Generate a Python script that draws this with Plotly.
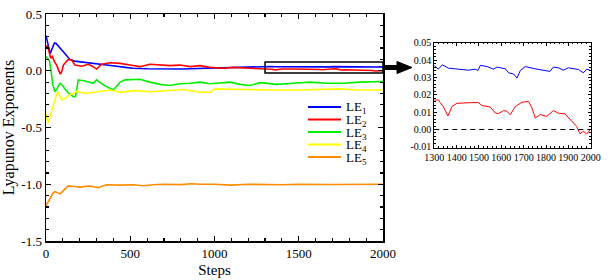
import plotly.graph_objects as go

W, H = 610, 280

# ---------------- data ----------------
le1_steps = [0, 12, 25, 35, 50, 60, 83, 110, 142, 170, 200, 250, 300, 360, 420, 470, 517, 600, 677, 750, 813, 900, 1000, 1110, 1200, 1290,
             1300, 1318, 1336, 1363, 1408, 1453, 1483, 1495, 1506, 1536, 1565, 1580, 1618, 1633, 1655, 1670, 1685, 1707, 1751, 1796,
             1818, 1833, 1855, 1878, 1900, 1945, 1967, 1982, 2000]
le1_values = [0.31, 0.22, 0.15, 0.19, 0.245, 0.24, 0.20, 0.15, 0.10, 0.085, 0.08, 0.075, 0.065, 0.05, 0.04, 0.03, 0.022, 0.018, 0.015, 0.016, 0.016, 0.02, 0.025, 0.03, 0.033, 0.036,
              0.0369, 0.0348, 0.0373, 0.0354, 0.0348, 0.0342, 0.0348, 0.0340, 0.0370, 0.0363, 0.0348, 0.0360, 0.0350, 0.0327, 0.0320, 0.0296, 0.0340, 0.0363, 0.0350, 0.0340,
              0.0335, 0.0360, 0.0356, 0.0342, 0.0356, 0.0346, 0.0327, 0.0348, 0.0340]

le2_steps = [0, 8, 18, 28, 38, 50, 63, 75, 85, 95, 103, 132, 152, 172, 212, 251, 275, 300, 330, 380, 440, 498, 558, 617, 677, 736, 795, 855, 914, 973, 1052, 1110, 1210, 1260,
             1300, 1318, 1340, 1361, 1379, 1401, 1468, 1498, 1513, 1550, 1573, 1588, 1610, 1625, 1640, 1662, 1692, 1722, 1737, 1752, 1774, 1804,
             1833, 1855, 1885, 1915, 1937, 1952, 1967, 1982, 2000]
le2_values = [0.21, 0.225, 0.17, 0.11, 0.125, 0.08, 0.05, 0.0, -0.03, 0.0, 0.05, 0.10, 0.095, 0.05, 0.04, 0.057, 0.04, 0.015, 0.057, 0.071, 0.065, 0.05, 0.036, 0.057, 0.05, 0.045, 0.05, 0.036, 0.045, 0.03, 0.022, 0.03, 0.022, 0.02,
              0.0170, 0.0170, 0.0132, 0.0078, 0.0132, 0.0151, 0.0155, 0.0155, 0.0138, 0.0130, 0.0095, 0.0092, 0.0109, 0.0105, 0.0085, 0.0132, 0.0157, 0.0162, 0.0124, 0.0066, 0.0086, 0.0076,
              0.0109, 0.0094, 0.0090, 0.0047, 0.0018, -0.0024, -0.0010, -0.0026, 0.0003]

le3_steps = [0, 10, 20, 30, 40, 53, 65, 83, 98, 113, 135, 152, 162, 175, 192, 231, 281, 300, 340, 400, 440, 470, 558, 617, 677, 736, 795, 855, 914, 973, 1032, 1092, 1151, 1210, 1270,
             1369, 1467, 1566, 1665, 1764, 1863, 1972, 2000]
le3_values = [0.125, 0.11, 0.09, 0.0, -0.12, -0.185, -0.16, -0.11, -0.13, -0.16, -0.20, -0.214, -0.23, -0.225, -0.08, -0.09, -0.11, -0.08, -0.125, -0.17, -0.10, -0.08, -0.075, -0.10, -0.12, -0.13, -0.115, -0.11, -0.10, -0.115, -0.11, -0.10, -0.12, -0.13, -0.105,
              -0.12, -0.11, -0.10, -0.11, -0.11, -0.10, -0.095, -0.095]

le4_steps = [0, 8, 15, 30, 45, 60, 73, 83, 93, 113, 142, 162, 182, 231, 320, 380, 440, 518, 617, 716, 815, 914, 973, 1003, 1110, 1210, 1350, 1500, 1650, 1740, 1850, 2000]
le4_values = [-0.38, -0.44, -0.45, -0.37, -0.28, -0.22, -0.185, -0.22, -0.26, -0.245, -0.21, -0.20, -0.18, -0.20, -0.185, -0.17, -0.19, -0.175, -0.185, -0.175, -0.165, -0.19, -0.19, -0.16, -0.165, -0.17, -0.17, -0.17, -0.165, -0.16, -0.17, -0.17]

le5_steps = [0, 10, 24, 40, 53, 70, 83, 100, 132, 165, 202, 261, 290, 310, 358, 430, 518, 577, 637, 700, 800, 865, 914, 1000, 1100, 1200, 1400, 1500, 1700, 2000]
le5_values = [-1.19, -1.16, -1.12, -1.08, -1.065, -1.075, -1.085, -1.06, -1.015, -1.02, -1.025, -1.015, -1.025, -1.03, -1.005, -1.008, -1.005, -1.013, -1.005, -1.0, -1.003, -0.995, -1.0, -1.0, -1.008, -1.0, -1.005, -1.0, -1.002, -1.0]

series_names = ["LE<sub>1</sub>", "LE<sub>2</sub>", "LE<sub>3</sub>", "LE<sub>4</sub>", "LE<sub>5</sub>"]
series_colors = ["#0000FF", "#FF0000", "#00EE00", "#FFFF00", "#FF8C00"]

main_yticks = [0.5, 0.0, -0.5, -1.0, -1.5]
main_yticklabels = ["0.5", "0.0", "-0.5", "-1.0", "-1.5"]
main_xticks = [0, 500, 1000, 1500, 2000]

inset_xticks = [1300, 1400, 1500, 1600, 1700, 1800, 1900, 2000]
inset_yticks = [0.05, 0.04, 0.03, 0.02, 0.01, 0.0, -0.01]
inset_yticklabels = ["0.05", "0.04", "0.03", "0.02", "0.01", "0.00", "-0.01"]

zoom_box_x = [1300, 2000]
zoom_box_y = [-0.02, 0.077]
zero_line_x = [1300, 2000]
zero_line_y = [0, 0]

# ---------------- figure ----------------
FONT = "Liberation Serif, Times New Roman, serif"
fig = go.Figure()

all_steps = [le1_steps, le2_steps, le3_steps, le4_steps, le5_steps]
all_values = [le1_values, le2_values, le3_values, le4_values, le5_values]
for s, v, c, n in zip(all_steps, all_values, series_colors, series_names):
    fig.add_trace(go.Scatter(x=s, y=v, mode="lines", name=n, line=dict(color=c, width=1.6),
                             xaxis="x", yaxis="y", showlegend=False))

# inset traces (same data, zoomed range)
for s, v, c, n in zip(all_steps[:2], all_values[:2], series_colors[:2], series_names[:2]):
    fig.add_trace(go.Scatter(x=s, y=v, mode="lines", line=dict(color=c, width=1),
                             xaxis="x2", yaxis="y2", showlegend=False))
fig.add_trace(go.Scatter(x=zero_line_x, y=zero_line_y, mode="lines",
                         line=dict(color="black", width=1, dash="5px,4px"),
                         xaxis="x2", yaxis="y2", showlegend=False))

def px_x(p):
    return p / W

def px_y(p):
    return 1 - p / H

axis_common = dict(showgrid=False, zeroline=False, showline=True, linecolor="black",
                   mirror="allticks", ticks="inside", tickcolor="black")

fig.update_layout(
    width=W, height=H,
    margin=dict(l=0, r=0, t=0, b=0),
    paper_bgcolor="white", plot_bgcolor="white",
    font=dict(family=FONT, color="black"),
    hovermode=False,
    xaxis=dict(**axis_common, domain=[px_x(46), px_x(383)], range=[0, 2000],
               linewidth=1.5, ticklen=5, tickwidth=1.2,
               tickvals=main_xticks, ticktext=[str(t) for t in main_xticks],
               tickfont=dict(size=13, family=FONT),
               minor=dict(dtick=100, ticklen=3, ticks="inside", tickcolor="black"),
               title=dict(text="Steps", font=dict(size=15, family=FONT), standoff=4),
               automargin=False),
    yaxis=dict(**axis_common, domain=[px_y(241), px_y(14)], range=[-1.5, 0.5],
               linewidth=1.5, ticklen=5, tickwidth=1.2,
               tickvals=main_yticks, ticktext=main_yticklabels,
               tickfont=dict(size=13, family=FONT),
               minor=dict(dtick=0.1, ticklen=3, ticks="inside", tickcolor="black"),
               title=dict(text="Lyapunov Exponents", font=dict(size=16, family=FONT), standoff=6),
               automargin=False),
    xaxis2=dict(**axis_common, domain=[px_x(434.3), px_x(590.7)], range=[1300, 2000],
                anchor="y2", linewidth=1, ticklen=3, tickwidth=1,
                tickvals=inset_xticks, ticktext=[str(t) for t in inset_xticks],
                tickfont=dict(size=10, family=FONT),
                minor=dict(dtick=20, ticklen=1.5, ticks="inside", tickcolor="black"),
                automargin=False),
    yaxis2=dict(**axis_common, domain=[px_y(147.7), px_y(42.8)], range=[-0.0105, 0.05],
                anchor="x2", linewidth=1, ticklen=3, tickwidth=1,
                tickvals=inset_yticks, ticktext=inset_yticklabels,
                tickfont=dict(size=10, family=FONT),
                minor=dict(dtick=0.002, ticklen=1.5, ticks="inside", tickcolor="black"),
                automargin=False),
)

# zoom rectangle on main plot
fig.add_shape(type="rect", xref="x", yref="y", x0=zoom_box_x[0], x1=zoom_box_x[1],
              y0=zoom_box_y[0], y1=zoom_box_y[1], line=dict(color="black", width=1.5))

# arrow from main plot to inset
fig.add_shape(type="line", xref="paper", yref="paper", x0=px_x(383), x1=px_x(399),
              y0=px_y(67.5), y1=px_y(67.5), line=dict(color="black", width=5))
fig.add_shape(type="path", xref="paper", yref="paper",
              path=f"M {px_x(397)},{px_y(61.5)} L {px_x(412)},{px_y(67.5)} L {px_x(397)},{px_y(73.5)} Z",
              fillcolor="black", line=dict(color="black", width=1))

# manual legend
leg_y = [107, 119.5, 132, 144.5, 157]
for yy, c, n in zip(leg_y, series_colors, series_names):
    fig.add_shape(type="line", xref="paper", yref="paper", x0=px_x(308), x1=px_x(341),
                  y0=px_y(yy), y1=px_y(yy), line=dict(color=c, width=1.8))
    fig.add_annotation(xref="paper", yref="paper", x=px_x(344), y=px_y(yy + 1),
                       text=n, showarrow=False, xanchor="left", yanchor="middle",
                       font=dict(size=13, family=FONT, color="black"))

fig.write_html("out.html", config={"displayModeBar": False, "staticPlot": True},
               post_script="document.body.style.margin='0';document.body.style.padding='0';")
